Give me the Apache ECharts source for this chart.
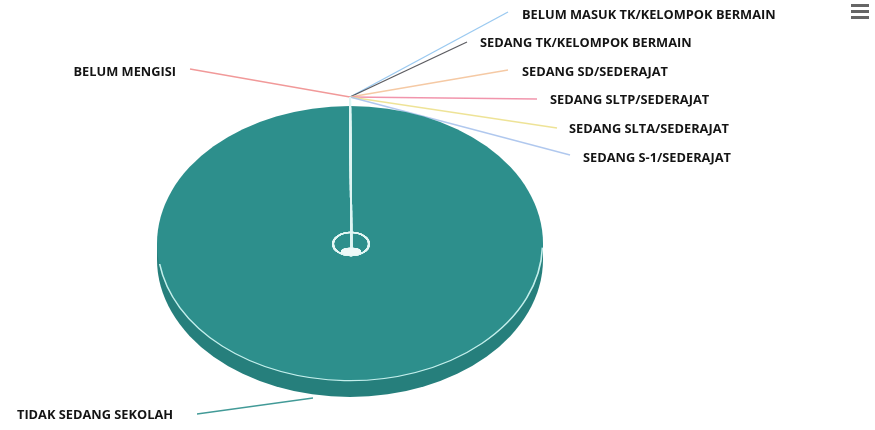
<!DOCTYPE html>
<html><head><meta charset="utf-8">
<script src="https://cdn.jsdelivr.net/npm/echarts@6/dist/echarts.min.js"></script>
<style>html,body{margin:0;padding:0;background:#fff}#c{width:875px;height:430px}</style>
</head><body><div id="c"></div>
<script>
// ---- data ----
const categories = [
  'BELUM MASUK TK/KELOMPOK BERMAIN',
  'SEDANG TK/KELOMPOK BERMAIN',
  'SEDANG SD/SEDERAJAT',
  'SEDANG SLTP/SEDERAJAT',
  'SEDANG SLTA/SEDERAJAT',
  'SEDANG S-1/SEDERAJAT',
  'TIDAK SEDANG SEKOLAH',
  'BELUM MENGISI'
];
const values = [0, 0, 0, 0, 0, 0, 2500, 0];
const colors = ['#8fc3ee', '#4a4a50', '#f4c39a', '#f08aa3', '#ece08c', '#a7c2ec', '#2d8f8c', '#ef8e8e'];

// ---- layout (label placement only) ----
const labelLayout = [
  {x: 522, y: 15,  align: 'left',  lx: 508, ly: 12},
  {x: 480, y: 43,  align: 'left',  lx: 467, ly: 42},
  {x: 522, y: 72,  align: 'left',  lx: 508, ly: 70},
  {x: 550, y: 100, align: 'left',  lx: 537, ly: 99},
  {x: 569, y: 129, align: 'left',  lx: 557, ly: 128},
  {x: 583, y: 158, align: 'left',  lx: 570, ly: 155},
  {x: 173, y: 415, align: 'right', lx: 197, ly: 414, ex: 313, ey: 398},
  {x: 176, y: 72,  align: 'right', lx: 190, ly: 69}
];
const CX = 350, CY = 243.5, RX = 193, RY = 137.5, DEPTH = 16;
const SIDE = '#267f7c';

const total = values.reduce((a, b) => a + b, 0);

function renderItem(params, api) {
  const i = params.dataIndex;
  let acc = 0;
  for (let k = 0; k < i; k++) acc += values[k];
  const a0 = -Math.PI / 2 + acc / total * 2 * Math.PI;
  const a1 = a0 + values[i] / total * 2 * Math.PI;
  const mid = (a0 + a1) / 2;
  const sy = RY / RX;
  const children = [];
  const L = labelLayout[i];
  let ax, ay;
  if (values[i] > 0) {
    children.push({type: 'rect', shape: {x: CX - RX, y: CY, width: 2 * RX, height: DEPTH},
      style: {fill: SIDE}, z2: 1});
    children.push({type: 'sector', shape: {cx: CX, cy: CY + DEPTH, r: RX, r0: 0, startAngle: a0, endAngle: a1},
      scaleY: sy, originX: CX, originY: CY + DEPTH, style: {fill: SIDE}, z2: 1});
    children.push({type: 'sector', shape: {cx: CX, cy: CY, r: RX, r0: 0, startAngle: a0, endAngle: a1},
      scaleY: sy, originX: CX, originY: CY, style: {fill: colors[i]}, z2: 2});
    children.push({type: 'arc', shape: {cx: CX, cy: CY, r: RX - 0.5, startAngle: 0.03, endAngle: Math.PI - 0.15, clockwise: true},
      scaleY: sy, originX: CX, originY: CY,
      style: {stroke: '#c4efec', lineWidth: 1.6, fill: null, strokeNoScale: true}, z2: 3});
    ax = L.ex !== undefined ? L.ex : CX + RX * Math.cos(mid);
    ay = L.ey !== undefined ? L.ey : CY + RY * Math.sin(mid) + DEPTH;
  } else {
    ax = CX + (RX) * Math.cos(mid);
    ay = CY + (RY + 9) * Math.sin(mid);
    // zero-width slice edge
    children.push({type: 'line', shape: {x1: ax, y1: ay, x2: CX + 1.5, y2: CY + 9},
      style: {stroke: '#dff5f3', lineWidth: 2}, z2: 10});
    children.push({type: 'arc', shape: {cx: CX + 1, cy: CY + 0.5, r: 18, startAngle: 0, endAngle: Math.PI * 2},
      scaleY: 0.64, originX: CX + 1, originY: CY + 0.5,
      style: {stroke: '#e4f7f5', lineWidth: 2, fill: null, strokeNoScale: true}, z2: 10});
    children.push({type: 'sector', shape: {cx: CX + 1, cy: CY + 8, r: 10, r0: 0, startAngle: 0, endAngle: Math.PI * 2},
      scaleY: 0.38, originX: CX + 1, originY: CY + 8,
      style: {fill: '#eef9f8'}, z2: 10});
  }
  // connector
  children.push({type: 'line', shape: {x1: L.lx, y1: L.ly, x2: ax, y2: ay},
    style: {stroke: colors[i], lineWidth: 1.3, opacity: 0.9}, z2: 0});
  // label
  children.push({type: 'text', x: L.x, y: L.y, z2: 20,
    style: {text: categories[i], fill: '#141414', font: 'bold 12.8px "Open Sans", sans-serif',
      align: L.align, verticalAlign: 'middle'}});
  return {type: 'group', children: children};
}

const chart = echarts.init(document.getElementById('c'), null, {renderer: 'canvas'});
chart.setOption({
  animation: false,
  backgroundColor: '#ffffff',
  series: [{
    type: 'custom',
    coordinateSystem: 'none',
    renderItem: renderItem,
    data: values.map((v, i) => ({name: categories[i], value: [v]}))
  }],
  graphic: [{
    type: 'group', right: 6, top: 4,
    children: [
      {type: 'rect', shape: {x: 0, y: 0, width: 18, height: 3}, style: {fill: '#666'}},
      {type: 'rect', shape: {x: 0, y: 6, width: 18, height: 3}, style: {fill: '#666'}},
      {type: 'rect', shape: {x: 0, y: 12, width: 18, height: 3}, style: {fill: '#666'}}
    ]
  }]
});
</script>
</body></html>
